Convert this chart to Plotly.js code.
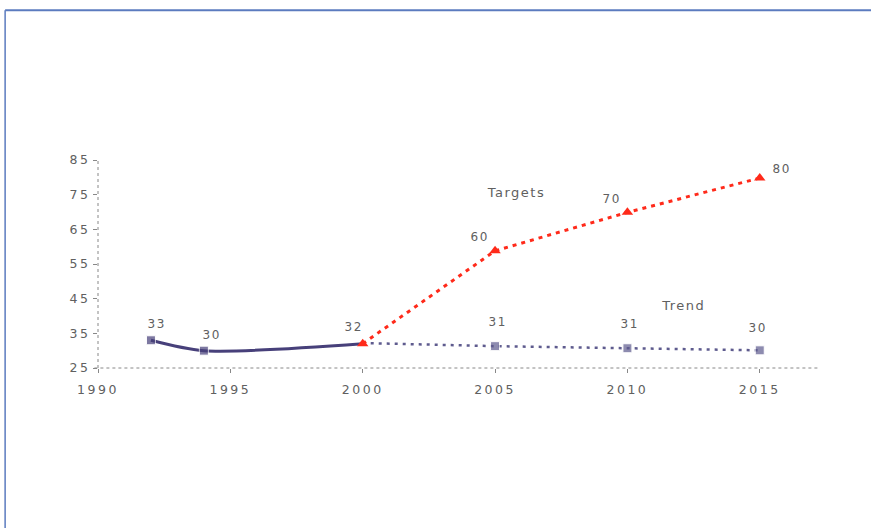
<!DOCTYPE html>
<html>
<head>
<meta charset="utf-8">
<script src="https://cdn.plot.ly/plotly-3.0.1.min.js"></script>
<style>
html,body{margin:0;padding:0;background:#fff;}
#chart{width:871px;height:528px;}
#chart .xtick text, #chart .ytick text{letter-spacing:2.5px;}
#chart .annotation-text{letter-spacing:1.5px;}
</style>
</head>
<body>
<div id="chart"></div>
<script>
// Data
var trendYearsSolid = [1992, 1994, 2000];
var trendValuesSolid = [33, 30, 32];
var trendLabelsSolid = ["33", "30", "32"];

var trendYearsProj = [2000, 2005, 2010, 2015];
var trendValuesProj = [32.2, 31.3, 30.7, 30.1];
var trendLabelsProj = ["", "31", "31", "30"];

var targetYears = [2000, 2005, 2010, 2015];
var targetValues = [32, 58.8, 69.9, 79.8];
var targetLabels = ["", "60", "70", "80"];

var xTicks = [1990, 1995, 2000, 2005, 2010, 2015];
var yTicks = [25, 35, 45, 55, 65, 75, 85];

var navy = "#47407a";
var navyDash = "#5e5b8e";
var red = "#ff2a1a";
var txt = "#606060";
var font = {family: "DejaVu Sans, Liberation Sans, sans-serif", size: 12, color: txt};
var tickFont = {family: "DejaVu Sans, Liberation Sans, sans-serif", size: 12.5, color: txt};

var traces = [
  {x: trendYearsSolid, y: trendValuesSolid, mode: "lines+markers", line: {color: navy, width: 3, shape: "spline", smoothing: 0.8},
   marker: {symbol: "square", size: [9, 9, 0], color: navy}, hoverinfo: "skip"},
  {x: trendYearsProj, y: trendValuesProj, mode: "lines+markers", line: {color: navyDash, width: 2.5, dash: "3px,5px"},
   marker: {symbol: "square", size: [0, 9, 9, 9], color: navyDash}, hoverinfo: "skip"},
  {x: targetYears, y: targetValues, mode: "lines+markers", line: {color: red, width: 3, dash: "4px,5px"},
   marker: {symbol: "triangle-up", size: 10, color: red}, hoverinfo: "skip"}
];

// label offsets (style)
var offSolid = [[6, 16], [8, 16], [-9, 17]];
var offProj = [[0, 0], [2, 24], [2, 24], [-2, 22]];
var offTarget = [[0, 0], [-16, 14], [-16, 13], [22, 9]];

var annotations = [];
function addLabels(xs, ys, labels, offs) {
  for (var i = 0; i < xs.length; i++) {
    if (!labels[i]) continue;
    annotations.push({x: xs[i], y: ys[i], xref: "x", yref: "y", text: labels[i], showarrow: false,
      xshift: offs[i][0], yshift: offs[i][1], font: font});
  }
}
addLabels(trendYearsSolid, trendValuesSolid, trendLabelsSolid, offSolid);
addLabels(trendYearsProj, trendValuesProj, trendLabelsProj, offProj);
addLabels(targetYears, targetValues, targetLabels, offTarget);
annotations.push({x: 2005.8, y: 75.5, xref: "x", yref: "y", text: "Targets", showarrow: false, font: {family: font.family, size: 13, color: txt}});
annotations.push({x: 2012.1, y: 43.0, xref: "x", yref: "y", text: "Trend", showarrow: false, font: {family: font.family, size: 13, color: txt}});

var layout = {
  width: 871, height: 528,
  margin: {l: 98, r: 53, t: 160, b: 160},
  paper_bgcolor: "#fff", plot_bgcolor: "#fff",
  showlegend: false,
  font: font,
  xaxis: {range: [1990, 2017.2], tickvals: xTicks, ticktext: xTicks.map(String), showgrid: false, zeroline: false,
    showline: false, ticks: "outside", ticklen: 4, tickcolor: "#888", tickfont: tickFont, ticklabelstandoff: 6},
  yaxis: {range: [25, 85], tickvals: yTicks, ticktext: yTicks.map(String), showgrid: false, zeroline: false,
    showline: false, ticks: "outside", ticklen: 4, tickcolor: "#888", tickfont: tickFont},
  annotations: annotations,
  shapes: [
    {type: "line", xref: "paper", yref: "paper", x0: -0.005, x1: 1, y0: 0, y1: 0, line: {color: "#888", width: 1, dash: "dot"}},
    {type: "line", xref: "paper", yref: "paper", x0: 0, x1: 0, y0: 0, y1: 1, line: {color: "#888", width: 1, dash: "dot"}},
    {type: "line", xref: "paper", yref: "paper", x0: -0.129, x1: 1.08, y0: 1.72, y1: 1.72, line: {color: "#5b7bbf", width: 2}},
    {type: "line", xref: "paper", yref: "paper", x0: -0.129, x1: -0.129, y0: 1.72, y1: -0.8, line: {color: "#5b7bbf", width: 1.5}}
  ]
};

Plotly.newPlot("chart", traces, layout, {displayModeBar: false, staticPlot: true});
</script>
</body>
</html>
